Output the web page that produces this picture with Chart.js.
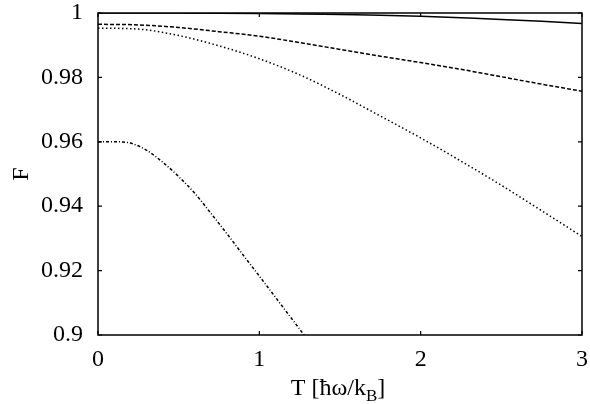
<!DOCTYPE html>
<html>
<head>
<meta charset="utf-8">
<script src="https://cdn.jsdelivr.net/npm/chart.js@4.4.1/dist/chart.umd.min.js"></script>
<style>
html,body{margin:0;padding:0;background:#fff;}
#wrap{width:590px;height:404px;}
</style>
</head>
<body>
<div id="wrap"><canvas id="c" width="590" height="404"></canvas></div>
<script>
// ---- data ----
const tValues = [0, 0.25, 0.5, 0.75, 1.0, 1.25, 1.5, 1.75, 2.0, 2.25, 2.5, 2.75, 3.0];
const solidF  = [1.0000, 1.0000, 0.99998, 0.99993, 0.99985, 0.99972, 0.9995, 0.9993, 0.9990, 0.9985, 0.9980, 0.9974, 0.9967];
const dashedF = [0.9965, 0.9963, 0.9955, 0.9942, 0.9928, 0.9908, 0.9887, 0.9866, 0.9846, 0.9825, 0.9802, 0.9779, 0.9757];
const dottedF = [0.9953, 0.9950, 0.9930, 0.9898, 0.9858, 0.9808, 0.9747, 0.9680, 0.9612, 0.9540, 0.9465, 0.9386, 0.9306];
const dashDotT = [0, 0.1, 0.2, 0.3, 0.4, 0.5, 0.6, 0.7, 0.8, 0.9, 1.0, 1.1, 1.2, 1.3];
const dashDotF = [0.9600, 0.9600, 0.9596, 0.9574, 0.9537, 0.9492, 0.9440, 0.9378, 0.9314, 0.9248, 0.9183, 0.9117, 0.9051, 0.8985];
const xTicks = [0, 1, 2, 3];
const yTicks = [0.9, 0.92, 0.94, 0.96, 0.98, 1];
const xTitleMain = "T [ħω/k";
const xTitleSub = "B";
const xTitleEnd = "]";
const yTitle = "F";

const FONT = '"Liberation Serif", serif';
const pts = (xs, ys) => xs.map((x, i) => ({x: x, y: ys[i]}));

const frame = {
  id: 'frame',
  afterDraw(chart) {
    const ctx = chart.ctx, a = chart.chartArea;
    const xs = chart.scales.x, ys = chart.scales.y;
    ctx.save();
    ctx.strokeStyle = '#000';
    ctx.lineWidth = 1.5;
    ctx.strokeRect(a.left, a.top, a.right - a.left, a.bottom - a.top);
    ctx.lineWidth = 1.2;
    const L = 4;
    ctx.beginPath();
    xTicks.forEach(v => {
      const p = xs.getPixelForValue(v);
      ctx.moveTo(p, a.bottom); ctx.lineTo(p, a.bottom - L);
      ctx.moveTo(p, a.top); ctx.lineTo(p, a.top + L);
    });
    yTicks.forEach(v => {
      const p = ys.getPixelForValue(v);
      ctx.moveTo(a.left, p); ctx.lineTo(a.left + L, p);
      ctx.moveTo(a.right, p); ctx.lineTo(a.right - L, p);
    });
    ctx.stroke();
    // axis titles
    ctx.fillStyle = '#000';
    ctx.textBaseline = 'alphabetic';
    ctx.textAlign = 'left';
    ctx.font = "24px " + FONT;
    const w1 = ctx.measureText(xTitleMain).width;
    const w3 = ctx.measureText(xTitleEnd).width;
    ctx.font = "17px " + FONT;
    const w2 = ctx.measureText(xTitleSub).width;
    const total = w1 + w2 + w3;
    let x0 = 338 - total / 2;
    const base = 395;
    ctx.font = "24px " + FONT;
    ctx.fillText(xTitleMain, x0, base);
    ctx.font = "17px " + FONT;
    ctx.fillText(xTitleSub, x0 + w1, base + 6);
    ctx.font = "24px " + FONT;
    ctx.fillText(xTitleEnd, x0 + w1 + w2, base);
    // y title
    ctx.translate(28, (a.top + a.bottom) / 2);
    ctx.rotate(-Math.PI / 2);
    ctx.textAlign = 'center';
    ctx.fillText(yTitle, 0, 0);
    ctx.restore();
  }
};

const common = {borderColor: '#000', borderWidth: 1.5, pointRadius: 0, fill: false, cubicInterpolationMode: 'monotone'};

new Chart(document.getElementById('c'), {
  type: 'line',
  data: {
    datasets: [
      Object.assign({label: 'solid', data: pts(tValues, solidF)}, common),
      Object.assign({label: 'dashed', data: pts(tValues, dashedF), borderDash: [4, 2]}, common),
      Object.assign({label: 'dotted', data: pts(tValues, dottedF), borderDash: [1.5, 2.5]}, common),
      Object.assign({label: 'dashdot', data: pts(dashDotT, dashDotF), borderDash: [3, 2, 1, 2]}, common)
    ]
  },
  options: {
    responsive: false,
    animation: false,
    events: [],
    layout: {padding: {top: 13, right: 8, left: 0, bottom: 0}},
    plugins: {legend: {display: false}, tooltip: {enabled: false}},
    scales: {
      x: {
        type: 'linear', min: 0, max: 3,
        grid: {display: false, drawTicks: false},
        border: {display: false},
        afterBuildTicks: s => { s.ticks = xTicks.map(v => ({value: v})); },
        afterFit: s => { s.height = 69; s.paddingLeft = 0; s.paddingRight = 0; },
        ticks: {color: '#000', font: {family: FONT, size: 24}, padding: 10, maxRotation: 0,
                callback: v => String(v)}
      },
      y: {
        type: 'linear', min: 0.9, max: 1,
        grid: {display: false, drawTicks: false},
        border: {display: false},
        afterBuildTicks: s => { s.ticks = yTicks.map(v => ({value: v})); },
        afterFit: s => { s.width = 98; s.paddingTop = 0; s.paddingBottom = 0; },
        ticks: {color: '#000', font: {family: FONT, size: 24}, padding: 15,
                callback: v => String(Math.round(v * 100) / 100)}
      }
    }
  },
  plugins: [frame]
});
</script>
</body>
</html>
